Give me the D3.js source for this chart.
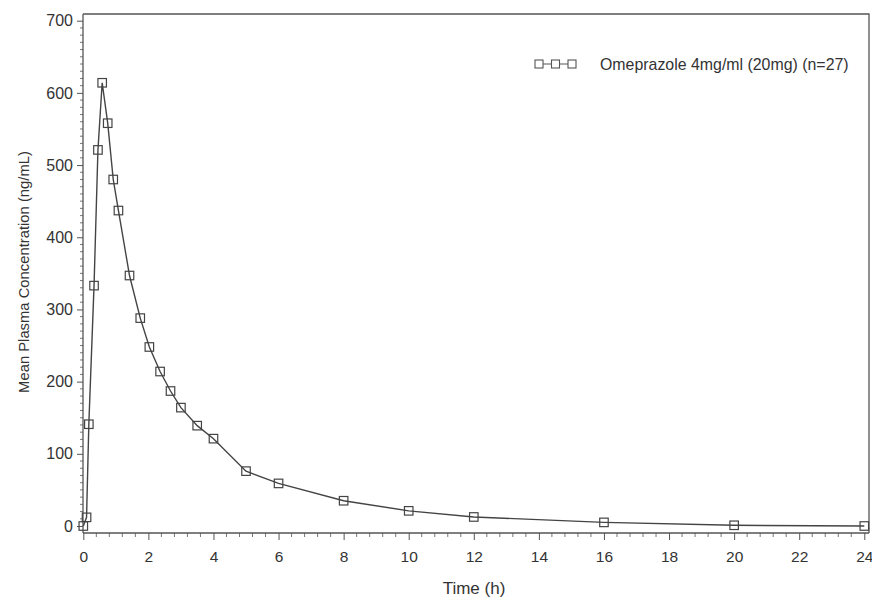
<!DOCTYPE html>
<html>
<head>
<meta charset="utf-8">
<script src="https://cdn.jsdelivr.net/npm/d3@7"></script>
<style>
  body { margin: 0; background: #fff; }
  svg text { font-family: "Liberation Sans", Arial, sans-serif; fill: #333; }
  .axis path, .axis line { stroke: #555; }
</style>
</head>
<body>
<div id="chart"></div>
<script>
// sampling times (h) and mean concentrations (ng/mL)
const times = [0, 0.1, 0.17, 0.33, 0.45, 0.58, 0.75, 0.92, 1.08, 1.42, 1.75, 2.03, 2.36, 2.68, 3, 3.5, 4, 5, 6, 8, 10, 12, 16, 20, 24];
const conc  = [0, 12, 141, 333, 521, 614, 558, 480, 437, 347, 288, 248, 214, 187, 164, 139, 121, 76, 59, 35, 21, 12.5, 5, 1, 0];
const xTicks = [0, 2, 4, 6, 8, 10, 12, 14, 16, 18, 20, 22, 24];
const yTicks = [0, 100, 200, 300, 400, 500, 600, 700];
const seriesName = "Omeprazole 4mg/ml (20mg) (n=27)";

const data = times.map((t, i) => ({ x: t, y: conc[i] }));

const W = 872, H = 597;
const svg = d3.select("#chart").append("svg").attr("width", W).attr("height", H);

const xScale = d3.scaleLinear().domain([0, 24]).range([83.3, 864.3]);
const yScale = d3.scaleLinear().domain([0, 700]).range([526, 20.7]);
const plotTop = 14, plotBottom = 533, plotLeft = 83, plotRight = 869;

// frame (top and right)
svg.append("path")
  .attr("d", `M${plotLeft},${plotTop}H${plotRight}V${plotBottom}`)
  .attr("fill", "none").attr("stroke", "#555").attr("stroke-width", 1.3);

// minor ticks
const yMinor = d3.range(-10, 711, 10).filter(v => v % 100 !== 0 && yScale(v) >= plotTop && yScale(v) <= plotBottom);
svg.append("g").selectAll("line").data(yMinor).join("line")
  .attr("x1", plotLeft).attr("x2", plotLeft - 3)
  .attr("y1", d => yScale(d)).attr("y2", d => yScale(d))
  .attr("stroke", "#777").attr("stroke-width", 1);

const xMinor = d3.range(0, 24.01, 0.4).filter(v => Math.abs(v / 2 - Math.round(v / 2)) > 0.01);
svg.append("g").selectAll("line").data(xMinor).join("line")
  .attr("x1", d => xScale(d)).attr("x2", d => xScale(d))
  .attr("y1", plotBottom).attr("y2", plotBottom + 4)
  .attr("stroke", "#777").attr("stroke-width", 1);

// axes
const yAxis = d3.axisLeft(yScale).tickValues(yTicks).tickSize(6).tickSizeOuter(0);
const gy = svg.append("g").attr("class", "axis").attr("transform", `translate(${plotLeft},0)`).call(yAxis);
gy.select(".domain").attr("d", `M0,${plotTop}V${plotBottom}`).attr("stroke-width", 1.3);
gy.selectAll("text").style("font-size", "16px").attr("x", -10);

const xAxis = d3.axisBottom(xScale).tickValues(xTicks).tickSize(7).tickSizeOuter(0);
const gx = svg.append("g").attr("class", "axis").attr("transform", `translate(0,${plotBottom})`).call(xAxis);
gx.select(".domain").attr("d", `M${plotLeft},0H${plotRight}`).attr("stroke-width", 1.3);
gx.selectAll("text").style("font-size", "15.5px").attr("y", 18);

// axis labels
svg.append("text")
  .attr("transform", `translate(28.5,272) rotate(-90)`)
  .attr("text-anchor", "middle")
  .style("font-size", "14.8px")
  .text("Mean Plasma Concentration (ng/mL)");

svg.append("text")
  .attr("x", 474).attr("y", 594)
  .attr("text-anchor", "middle")
  .style("font-size", "17px")
  .text("Time (h)");

// series line and markers
const line = d3.line().x(d => xScale(d.x)).y(d => yScale(d.y));
svg.append("path").datum(data)
  .attr("d", line).attr("fill", "none")
  .attr("stroke", "#444").attr("stroke-width", 1.4);

const m = 8.5;
svg.append("g").selectAll("rect").data(data).join("rect")
  .attr("x", d => xScale(d.x) - m / 2).attr("y", d => yScale(d.y) - m / 2)
  .attr("width", m).attr("height", m)
  .attr("fill", "none").attr("stroke", "#444").attr("stroke-width", 1.2);

// legend
const legX = [539, 555.5, 572];
const lg = svg.append("g");
lg.append("line").attr("x1", legX[0]).attr("x2", legX[2]).attr("y1", 64).attr("y2", 64)
  .attr("stroke", "#555").attr("stroke-width", 1.1);
lg.selectAll("rect").data(legX).join("rect")
  .attr("x", d => d - 4).attr("y", 60).attr("width", 8).attr("height", 8)
  .attr("fill", "#fff").attr("stroke", "#555").attr("stroke-width", 1.1);
lg.append("text").attr("x", 600).attr("y", 70)
  .style("font-size", "15.9px")
  .text(seriesName);
</script>
</body>
</html>
